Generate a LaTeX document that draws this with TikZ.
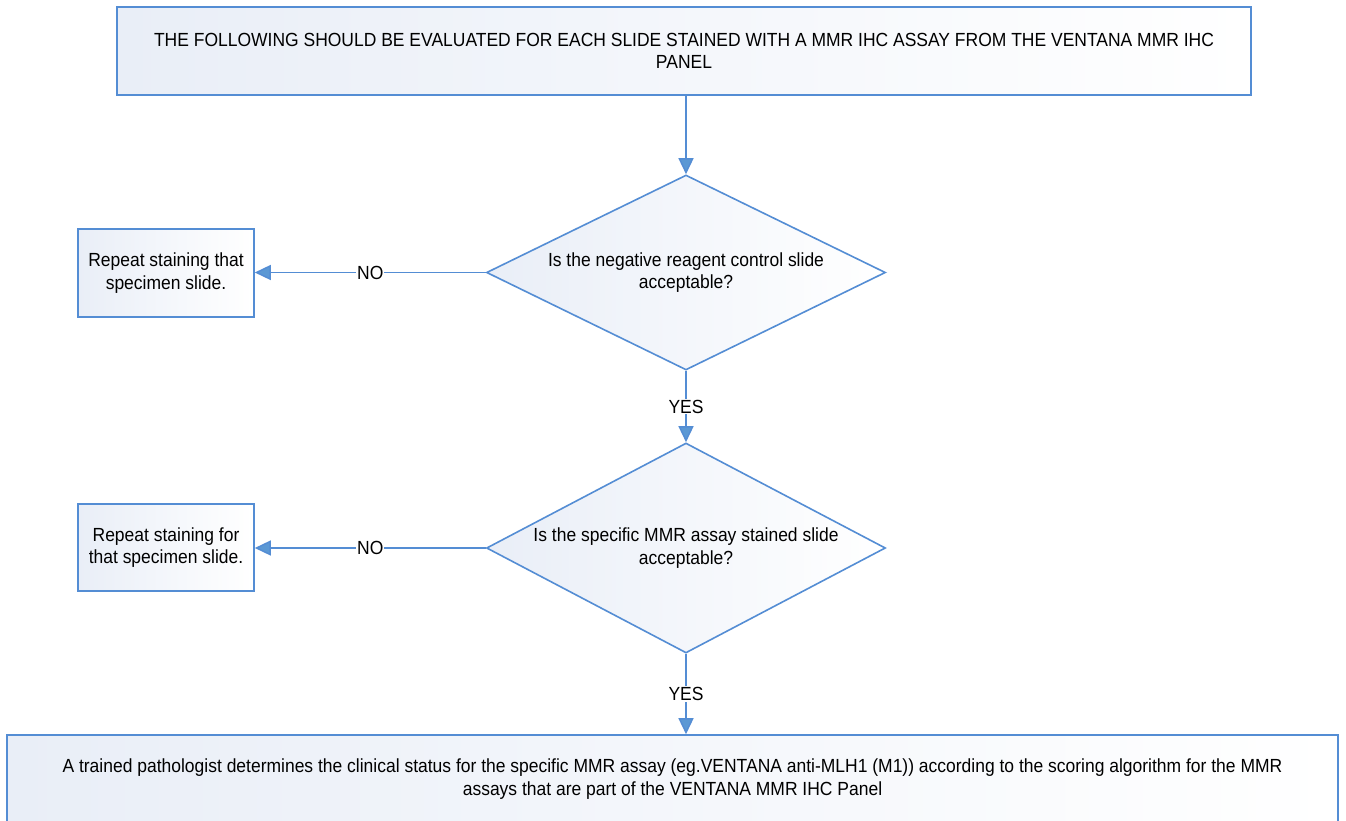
\documentclass[tikz,border=0pt]{standalone}
\usepackage{fontspec}
\setmainfont{Liberation Sans}[FakeStretch=0.92]
\usetikzlibrary{shapes.geometric,arrows.meta}
\definecolor{edgeblue}{RGB}{84,141,212}
\definecolor{tipblue}{RGB}{91,152,212}
\definecolor{fillblue}{RGB}{233,238,247}
\begin{document}
\begin{tikzpicture}[x=1pt,y=-1pt,
  every node/.style={font=\fontsize{19}{22.5}\selectfont, text=black},
  boxstyle/.style={draw=edgeblue, line width=1.6pt, left color=fillblue, right color=white, inner sep=0pt, align=center},
  decision/.style={diamond, draw=edgeblue, line width=1.6pt, left color=fillblue, right color=white, inner sep=0pt, align=center, shape aspect=2.2},
  conn/.style={draw=edgeblue, line width=1.5pt, -{Triangle[width=15pt,length=16pt,fill=tipblue]}},
  lab/.style={fill=white, inner sep=1pt}
]
\useasboundingbox (0,0) rectangle (1346,821);
\clip (0,0) rectangle (1346,821);
\fill[white] (0,0) rectangle (1346,821);

\node[boxstyle, minimum width=1134pt, minimum height=88pt] (top) at (684,51)
  {THE FOLLOWING SHOULD BE EVALUATED FOR EACH SLIDE STAINED WITH A MMR IHC ASSAY FROM THE VENTANA MMR IHC\\PANEL};

\node[decision, minimum width=399pt, minimum height=195pt] (d1) at (686,272.5)
  {Is the negative reagent control slide\\acceptable?};

\node[decision, minimum width=399pt, minimum height=210pt] (d2) at (686,548)
  {Is the specific MMR assay stained slide\\acceptable?};

\node[boxstyle, minimum width=176pt, minimum height=88pt] (r1) at (166,273)
  {Repeat staining that\\specimen slide.};

\node[boxstyle, minimum width=176pt, minimum height=87pt] (r2) at (166,547.5)
  {Repeat staining for\\that specimen slide.};

\node[boxstyle, minimum width=1331pt, minimum height=88pt] (fin) at (672.5,779)
  {A trained pathologist determines the clinical status for the specific MMR assay (eg.VENTANA anti-MLH1 (M1)) according to the scoring algorithm for the MMR\\assays that are part of the VENTANA MMR IHC Panel};

\draw[conn] (top.south -| d1.north) -- (d1.north);
\draw[conn] (d1.west) -- node[lab] (no1) {NO} (d1.west -| r1.east);
\draw[conn] (d1.south) -- node[lab] (yes1) {YES} (d2.north);
\draw[conn] (d2.west) -- node[lab] (no2) {NO} (d2.west -| r2.east);
\draw[conn] (d2.south) -- node[lab] (yes2) {YES} (d2.south |- fin.north);
\end{tikzpicture}
\end{document}
